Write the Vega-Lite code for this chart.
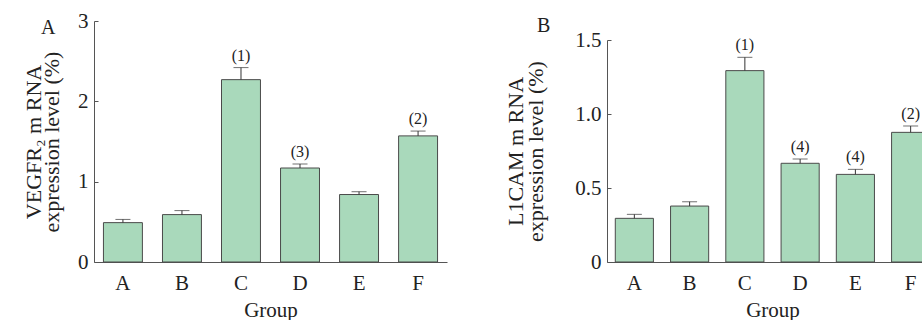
{
  "$schema": "https://vega.github.io/schema/vega-lite/v6.json",
  "padding": {"left": 22, "top": 10, "right": 0, "bottom": 0},
  "autosize": {"type": "pad"},
  "background": "white",
  "config": {
    "view": {"stroke": null},
    "font": "Liberation Serif",
    "axis": {
      "grid": false,
      "domainColor": "#555",
      "tickColor": "#555",
      "tickSize": -4,
      "labelFontSize": 21,
      "titleFontSize": 21,
      "titleFontWeight": "normal",
      "labelColor": "#222",
      "titleColor": "#222",
      "labelFont": "Liberation Serif",
      "titleFont": "Liberation Serif"
    },
    "title": {"font": "Liberation Serif", "fontWeight": "normal", "fontSize": 20, "color": "#222"}
  },
  "datasets": {
    "a": [
      {"group": "A", "value": 0.49, "high": 0.53, "label": ""},
      {"group": "B", "value": 0.59, "high": 0.64, "label": ""},
      {"group": "C", "value": 2.27, "high": 2.42, "label": "(1)"},
      {"group": "D", "value": 1.17, "high": 1.22, "label": "(3)"},
      {"group": "E", "value": 0.84, "high": 0.875, "label": ""},
      {"group": "F", "value": 1.57, "high": 1.63, "label": "(2)"}
    ],
    "b": [
      {"group": "A", "value": 0.295, "high": 0.322, "label": ""},
      {"group": "B", "value": 0.378, "high": 0.407, "label": ""},
      {"group": "C", "value": 1.293, "high": 1.383, "label": "(1)"},
      {"group": "D", "value": 0.667, "high": 0.696, "label": "(4)"},
      {"group": "E", "value": 0.592, "high": 0.626, "label": "(4)"},
      {"group": "F", "value": 0.876, "high": 0.919, "label": "(2)"}
    ]
  },
  "spacing": 57,
  "hconcat": [
    {
      "width": 353,
      "height": 241,
      "data": {"name": "a"},
      "title": {"text": "A", "anchor": "start", "frame": "group", "dx": -53, "offset": 0, "dy": 44, "baseline": "alphabetic"},
      "encoding": {
        "x": {"field": "group", "type": "nominal", "scale": {"paddingInner": 0.34, "paddingOuter": 0.16},
          "axis": {"labelAngle": 0, "labelPadding": 14, "title": "Group", "titlePadding": 6}}
      },
      "layer": [
        {"mark": {"type": "bar", "fill": "#a9d9bb", "stroke": "#4a4a4a", "strokeWidth": 1},
          "encoding": {"y": {"field": "value", "type": "quantitative", "scale": {"domain": [0, 3], "nice": false},
            "axis": {"values": [0, 1, 2, 3], "format": "d", "labelPadding": 10, "title": ["VEGFR₂ m RNA", "expression level (%)"], "titleFontSize": 22, "titlePadding": 14, "titleLineHeight": 18}}}},
        {"mark": {"type": "rule", "color": "#333", "strokeWidth": 1},
          "encoding": {"y": {"field": "value", "type": "quantitative"}, "y2": {"field": "high"}}},
        {"mark": {"type": "tick", "orient": "horizontal", "size": 15, "thickness": 1, "color": "#333"},
          "encoding": {"y": {"field": "high", "type": "quantitative"}}},
        {"mark": {"type": "text", "dy": -4, "baseline": "bottom", "fontSize": 16, "color": "#222"},
          "encoding": {"y": {"field": "high", "type": "quantitative"}, "text": {"field": "label"}}}
      ]
    },
    {
      "width": 331,
      "height": 241,
      "data": {"name": "b"},
      "title": {"text": "B", "anchor": "start", "frame": "group", "dx": -70, "offset": 0, "dy": 31, "baseline": "alphabetic"},
      "encoding": {
        "x": {"field": "group", "type": "nominal", "scale": {"paddingInner": 0.31, "paddingOuter": 0.15},
          "axis": {"labelAngle": 0, "labelPadding": 14, "title": "Group", "titlePadding": 6}}
      },
      "layer": [
        {"mark": {"type": "bar", "fill": "#a9d9bb", "stroke": "#4a4a4a", "strokeWidth": 1},
          "encoding": {"y": {"field": "value", "type": "quantitative", "scale": {"domain": [0, 1.5], "nice": false, "range": [241, 19]},
            "axis": {"values": [0, 0.5, 1, 1.5], "labelExpr": "datum.value == 0 ? '0' : format(datum.value, '.1f')", "labelPadding": 10, "title": ["L1CAM m RNA", "expression level (%)"], "titleFontSize": 22, "titlePadding": 27, "titleLineHeight": 20}}}},
        {"mark": {"type": "rule", "color": "#333", "strokeWidth": 1},
          "encoding": {"y": {"field": "value", "type": "quantitative"}, "y2": {"field": "high"}}},
        {"mark": {"type": "tick", "orient": "horizontal", "size": 15, "thickness": 1, "color": "#333"},
          "encoding": {"y": {"field": "high", "type": "quantitative"}}},
        {"mark": {"type": "text", "dy": -4, "baseline": "bottom", "fontSize": 16, "color": "#222"},
          "encoding": {"y": {"field": "high", "type": "quantitative"}, "text": {"field": "label"}}}
      ]
    }
  ]
}
